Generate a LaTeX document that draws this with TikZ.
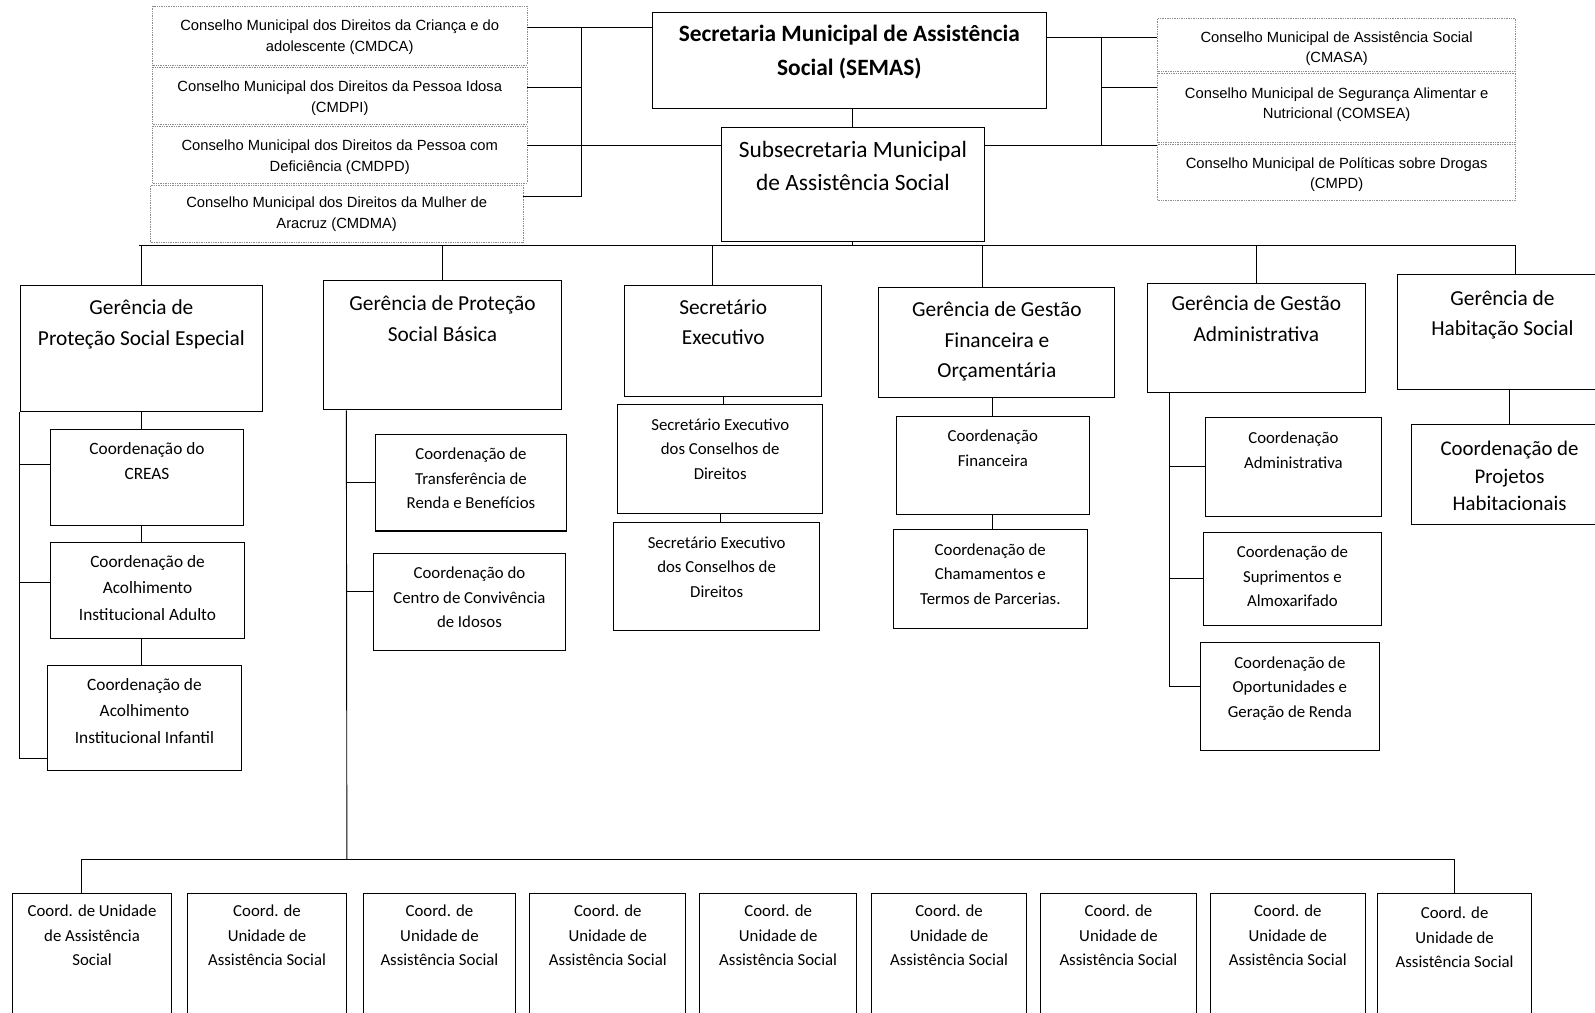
\documentclass[tikz,border=0pt]{standalone}
\usepackage{fontspec}
\setmainfont{Carlito}
\newfontfamily\arialfont{Liberation Sans}
\tikzset{
  unitbox/.style={draw, line width=1pt, inner sep=0pt},
  councilbox/.style={draw=black!45, densely dotted, line width=0.7pt, inner sep=0pt},
  boxtext/.style={anchor=north, align=center, inner sep=0pt, yshift=-2pt},
  ctext/.style={boxtext, font=\arialfont\fontsize{14.5}{20}\selectfont},
  htext/.style={boxtext, yshift=-1pt, font=\fontsize{21}{30}\selectfont},
  stext/.style={boxtext, font=\fontsize{16.5}{24}\selectfont},
  link/.style={line width=0.9pt},
}
\begin{document}
\begin{tikzpicture}[x=1pt, y=-1pt]
\useasboundingbox (0,0) rectangle (1568,995);

% top level
\node[unitbox, minimum width=388, minimum height=95,
  label={[boxtext, font=\bfseries\fontsize{23}{33}\selectfont, yshift=-11pt]north:Secretaria Municipal de Assistência\\Social (SEMAS)}] (semas) at (835,59.5) {};
\node[unitbox, minimum width=259, minimum height=112,
  label={[boxtext, font=\fontsize{23}{33}\selectfont, yshift=-12pt]north:Subsecretaria Municipal\\de Assistência Social}] (sub) at (838.5,181) {};

% conselhos
\node[councilbox, minimum width=368, minimum height=58,
  label={[ctext, yshift=-12pt]north:Conselho Municipal dos Direitos da Criança e do\\adolescente (CMDCA)}] (cmdca) at (334,35) {};
\node[councilbox, minimum width=368, minimum height=56,
  label={[ctext, yshift=-12pt]north:Conselho Municipal dos Direitos da Pessoa Idosa\\(CMDPI)}] (cmdpi) at (334,94) {};
\node[councilbox, minimum width=368, minimum height=56,
  label={[ctext, yshift=-12pt]north:Conselho Municipal dos Direitos da Pessoa com\\Deficiência (CMDPD)}] (cmdpd) at (334,152) {};
\node[councilbox, minimum width=366, minimum height=56,
  label={[ctext, yshift=-10pt]north:Conselho Municipal dos Direitos da Mulher de\\Aracruz (CMDMA)}] (cmdma) at (331,210) {};
\node[councilbox, minimum width=352, minimum height=52,
  label={[ctext, yshift=-11pt]north:Conselho Municipal de Assistência Social\\(CMASA)}] (cmasa) at (1314,44) {};
\node[councilbox, minimum width=352, minimum height=68,
  label={[ctext, yshift=-12pt]north:Conselho Municipal de Segurança Alimentar e\\Nutricional (COMSEA)}] (comsea) at (1314,106) {};
\node[councilbox, minimum width=352, minimum height=55,
  label={[ctext, yshift=-11pt]north:Conselho Municipal de Políticas sobre Drogas\\(CMPD)}] (cmpd) at (1314,169.5) {};

% gerencias
\node[unitbox, minimum width=238, minimum height=124,
  label={[htext, yshift=-11pt]north:Gerência de\\Proteção Social Especial}] (gpse) at (139,343) {};
\node[unitbox, minimum width=234, minimum height=127,
  label={[htext, yshift=-12pt]north:Gerência de Proteção\\Social Básica}] (gpsb) at (435,339.5) {};
\node[unitbox, minimum width=194, minimum height=109,
  label={[htext, yshift=-11pt]north:Secretário\\Executivo}] (secx) at (711,335.5) {};
\node[unitbox, minimum width=232, minimum height=108,
  label={[htext, yshift=-11pt]north:Gerência de Gestão\\Financeira e\\Orçamentária}] (ggfo) at (980,337) {};
\node[unitbox, minimum width=214, minimum height=107,
  label={[htext, yshift=-9pt]north:Gerência de Gestão\\Administrativa}] (gga) at (1235,332.5) {};
\node[unitbox, minimum width=206, minimum height=113,
  label={[htext, yshift=-13pt]north:Gerência de\\Habitação Social}] (ghs) at (1477,326.5) {};

% coordenacoes
\node[unitbox, minimum width=189, minimum height=95,
  label={[boxtext, font=\fontsize{17}{25}\selectfont, yshift=-11pt]north:Coordenação do\\CREAS}] (creas) at (144.5,469.5) {};
\node[unitbox, minimum width=190, minimum height=95,
  label={[boxtext, font=\fontsize{17}{26}\selectfont, yshift=-11pt]north:Coordenação de\\Acolhimento\\Institucional Adulto}] (aia) at (145,580.5) {};
\node[unitbox, minimum width=190, minimum height=103,
  label={[boxtext, font=\fontsize{17}{26}\selectfont, yshift=-11pt]north:Coordenação de\\Acolhimento\\Institucional Infantil}] (aii) at (142,705.5) {};
\node[unitbox, minimum width=188, minimum height=95,
  label={[stext, yshift=-12pt]north:Coordenação de\\Transferência de\\Renda e Benefícios}] (transf) at (463,474.5) {};
\node[unitbox, minimum width=189, minimum height=95,
  label={[stext, yshift=-12pt]north:Coordenação do\\Centro de Convivência\\de Idosos}] (centro) at (461.5,591.5) {};
\node[unitbox, minimum width=202, minimum height=107,
  label={[stext, yshift=-12pt]north:Secretário Executivo\\dos Conselhos de\\Direitos}] (sea) at (708,451.5) {};
\node[unitbox, minimum width=203, minimum height=106,
  label={[stext, yshift=-12pt]north:Secretário Executivo\\dos Conselhos de\\Direitos}] (seb) at (704.5,567) {};
\node[unitbox, minimum width=190, minimum height=97,
  label={[stext, yshift=-12pt]north:Coordenação\\Financeira}] (cfin) at (976,457.5) {};
\node[unitbox, minimum width=191, minimum height=97,
  label={[stext, yshift=-12pt]north:Coordenação de\\Chamamentos e\\Termos de Parcerias.}] (cham) at (973.5,569.5) {};
\node[unitbox, minimum width=173, minimum height=98,
  label={[stext, yshift=-13pt]north:Coordenação\\Administrativa}] (adm) at (1271.5,459) {};
\node[unitbox, minimum width=175, minimum height=92,
  label={[stext, yshift=-12pt]north:Coordenação de\\Suprimentos e\\Almoxarifado}] (sup) at (1270.5,569) {};
\node[unitbox, minimum width=176, minimum height=106,
  label={[stext, yshift=-12pt]north:Coordenação de\\Oportunidades e\\Geração de Renda}] (oport) at (1268,685) {};
\node[unitbox, minimum width=192, minimum height=99,
  label={[boxtext, font=\fontsize{20.5}{27}\selectfont, yshift=-15pt]north:Coordenação de\\Projetos\\Habitacionais}] (proj) at (1484,466.5) {};

% unidades
\node[unitbox, minimum width=157, minimum height=132,
  label={[stext, yshift=-10pt]north:Coord. de Unidade\\de Assistência\\Social}] (ua) at (90.5,944) {};
\node[unitbox, minimum width=157, minimum height=132,
  label={[stext, yshift=-10pt]north:Coord. de\\Unidade de\\Assistência Social}] (ub) at (262.5,944) {};
\node[unitbox, minimum width=150, minimum height=132,
  label={[stext, yshift=-10pt]north:Coord. de\\Unidade de\\Assistência Social}] (uc) at (432,944) {};
\node[unitbox, minimum width=153, minimum height=132,
  label={[stext, yshift=-10pt]north:Coord. de\\Unidade de\\Assistência Social}] (ud) at (597.5,944) {};
\node[unitbox, minimum width=154, minimum height=132,
  label={[stext, yshift=-10pt]north:Coord. de\\Unidade de\\Assistência Social}] (ue) at (765,944) {};
\node[unitbox, minimum width=152, minimum height=132,
  label={[stext, yshift=-10pt]north:Coord. de\\Unidade de\\Assistência Social}] (uf) at (933,944) {};
\node[unitbox, minimum width=153, minimum height=132,
  label={[stext, yshift=-10pt]north:Coord. de\\Unidade de\\Assistência Social}] (ug) at (1099.5,944) {};
\node[unitbox, minimum width=152, minimum height=132,
  label={[stext, yshift=-10pt]north:Coord. de\\Unidade de\\Assistência Social}] (uh) at (1266,944) {};
\node[unitbox, minimum width=152, minimum height=132,
  label={[stext, yshift=-12pt]north:Coord. de\\Unidade de\\Assistência Social}] (ui) at (1430,944) {};

% junctions
\coordinate (jl1) at (572,27);
\coordinate (jl2) at (572,86);
\coordinate (jl3) at (572,143);
\coordinate (jl4) at (572,193);
\coordinate (jr1) at (1083,37);
\coordinate (jr2) at (1083,86);
\coordinate (jr3) at (1083,143);
\coordinate (busl) at (137,241);
\coordinate (busr) at (1490,241);
\coordinate (bbus) at (341,845);
\coordinate (gbv) at ([xshift=23pt]gpsb.south west);
\coordinate (gav) at ([xshift=22pt]gga.south west);

\begin{scope}[link]
  \draw (semas.west |- jl1) -- (cmdca.east |- jl1);
  \draw (cmdpi.east |- jl2) -- (jl2);
  \draw (sub.west |- jl3) -- (cmdpd.east |- jl3);
  \draw (cmdma.east |- jl4) -- (jl4);
  \draw (jl1) -- (jl4);
  \draw (semas.east |- jr1) -- (cmasa.west |- jr1);
  \draw (jr2) -- (comsea.west |- jr2);
  \draw (sub.east |- jr3) -- (cmpd.west |- jr3);
  \draw (jr1) -- (jr3);
  \draw (semas.south -| sub.north) -- (sub.north);
  \draw (sub.south) -- (sub.south |- busl);
  \draw (busl) -- (busr);
  \draw (gpse.north) -- (gpse.north |- busl);
  \draw (gpsb.north) -- (gpsb.north |- busl);
  \draw ([xshift=-11pt]secx.north) -- ([xshift=-11pt]secx.north |- busl);
  \draw ([xshift=-14pt]ggfo.north) -- ([xshift=-14pt]ggfo.north |- busl);
  \draw (gga.north) -- (gga.north |- busl);
  \draw ([xshift=13pt]ghs.north) -- (busr);
  % protecao especial
  \draw (gpse.south) -- (gpse.south |- creas.north);
  \draw (creas.south -| gpse.south) -- (aia.north -| gpse.south);
  \draw (aia.south -| gpse.south) -- (aii.north -| gpse.south);
  \draw (gpse.south west) |- ([yshift=-40pt]aii.west);
  \draw ([yshift=13pt]creas.west) -- ([yshift=13pt]creas.west -| gpse.west);
  \draw ([yshift=8pt]aia.west) -- ([yshift=8pt]aia.west -| gpse.west);
  % protecao basica
  \draw (gbv) -- (bbus);
  \draw (transf.west) -- (transf.west -| gbv);
  \draw ([yshift=10pt]centro.west) -- ([yshift=10pt]centro.west -| gbv);
  \draw ([xshift=-10pt]ua.north) |- (bbus) -| (ui.north);
  % secretario executivo
  \draw (secx.south) -- (secx.south |- sea.north);
  \draw (sea.south) -- (sea.south |- seb.north);
  % gestao financeira
  \draw (ggfo.south -| cfin.north) -- (cfin.north);
  \draw (cfin.south) -- (cfin.south |- cham.north);
  % gestao administrativa
  \draw (gav) |- ([yshift=10pt]oport.west);
  \draw (adm.west) -- (adm.west -| gav);
  \draw (sup.west) -- (sup.west -| gav);
  % habitacao
  \draw (ghs.south -| proj.north) -- (proj.north);
\end{scope}
\end{tikzpicture}
\end{document}
